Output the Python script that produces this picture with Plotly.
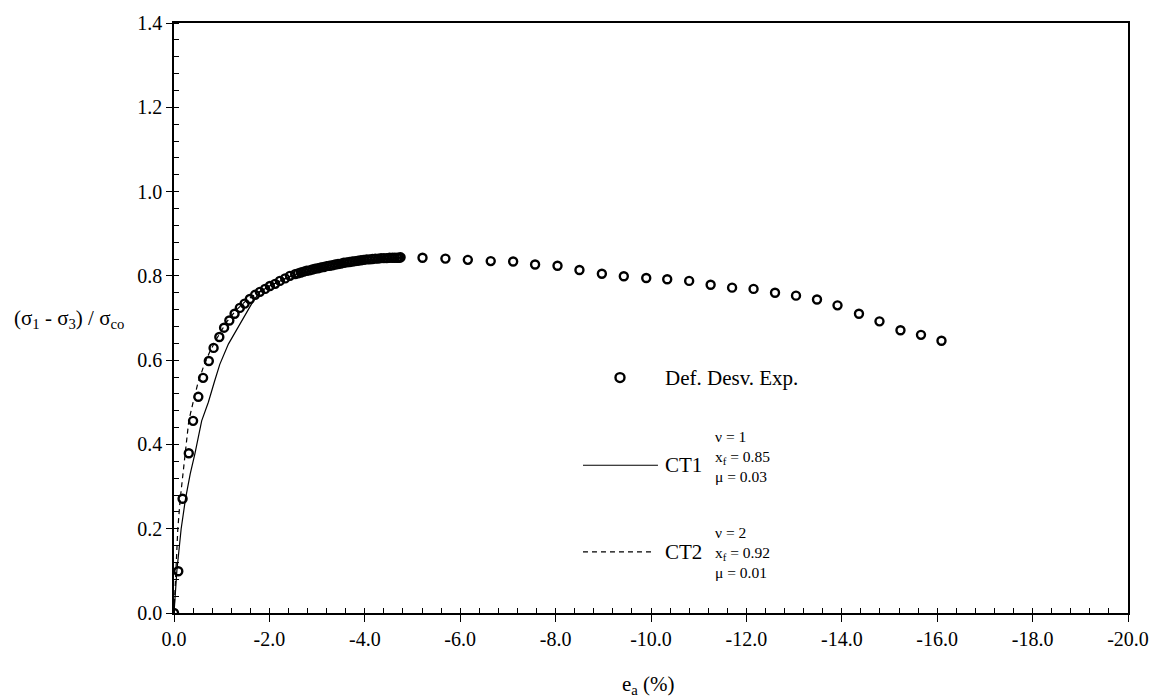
import plotly.graph_objects as go

# ---- data ----
exp_x = [0.0, -0.09, -0.18, -0.31, -0.40, -0.51, -0.61, -0.73, -0.83, -0.95, -1.05, -1.16, -1.27,
         -1.38, -1.48, -1.59, -1.70, -1.80, -1.91, -2.01, -2.12, -2.22, -2.33, -2.43,
         -2.54, -2.60, -2.66, -2.72, -2.78, -2.84, -2.90, -2.96, -3.02, -3.08, -3.14, -3.20, -3.26,
         -3.32, -3.38, -3.44, -3.50, -3.56, -3.62, -3.68, -3.74, -3.80, -3.86, -3.92, -3.98, -4.04,
         -4.10, -4.16, -4.22, -4.28, -4.34, -4.40, -4.46, -4.52, -4.58, -4.63, -4.68, -4.72, -4.75,
         -5.21, -5.69, -6.16, -6.64, -7.11, -7.57, -8.04, -8.50, -8.97, -9.43, -9.90, -10.34,
         -10.80, -11.25, -11.70, -12.15, -12.60, -13.04, -13.48, -13.91, -14.36, -14.79, -15.23,
         -15.66, -16.09]
exp_y = [0.0, 0.099, 0.271, 0.379, 0.456, 0.513, 0.558, 0.598, 0.629, 0.655, 0.677, 0.694, 0.710,
         0.724, 0.734, 0.745, 0.755, 0.762, 0.769, 0.776, 0.781, 0.788, 0.794, 0.800,
         0.804, 0.806, 0.808, 0.810, 0.812, 0.813, 0.815, 0.817, 0.818, 0.820, 0.821, 0.823, 0.824,
         0.825, 0.827, 0.828, 0.829, 0.831, 0.832, 0.833, 0.834, 0.835, 0.836, 0.837, 0.838, 0.839,
         0.839, 0.840, 0.841, 0.841, 0.842, 0.842, 0.842, 0.843, 0.843, 0.843, 0.843, 0.843, 0.844,
         0.843, 0.841, 0.838, 0.835, 0.834, 0.827, 0.824, 0.814, 0.805, 0.799, 0.795, 0.792,
         0.788, 0.779, 0.772, 0.769, 0.760, 0.753, 0.744, 0.730, 0.710, 0.692, 0.671,
         0.660, 0.646]

ct1_x = [0.0, -0.06, -0.15, -0.24, -0.34, -0.44, -0.58, -0.72, -0.85, -0.96, -1.14, -1.31, -1.49,
         -1.66, -1.80, -2.0, -2.5, -3.0, -3.5, -4.0, -4.5, -4.75]
ct1_y = [0.0, 0.10, 0.20, 0.27, 0.33, 0.379, 0.456, 0.50, 0.55, 0.59, 0.638, 0.672, 0.708,
         0.740, 0.762, 0.776, 0.802, 0.818, 0.830, 0.838, 0.842, 0.843]

ct2_x = [0.0, -0.035, -0.08, -0.13, -0.23, -0.31, -0.40, -0.50, -0.62, -0.75, -0.90, -1.10, -1.30,
         -1.50, -1.75, -2.0, -2.5, -3.0, -3.5, -4.0, -4.5, -4.75]
ct2_y = [0.0, 0.10, 0.20, 0.27, 0.38, 0.456, 0.50, 0.545, 0.585, 0.62, 0.652, 0.69, 0.718,
         0.74, 0.76, 0.776, 0.802, 0.818, 0.830, 0.838, 0.842, 0.843]

x_tickvals = [0, -2, -4, -6, -8, -10, -12, -14, -16, -18, -20]
x_ticktext = ["0.0", "-2.0", "-4.0", "-6.0", "-8.0", "-10.0", "-12.0", "-14.0", "-16.0", "-18.0", "-20.0"]
y_tickvals = [0, 0.2, 0.4, 0.6, 0.8, 1.0, 1.2, 1.4]
y_ticktext = ["0.0", "0.2", "0.4", "0.6", "0.8", "1.0", "1.2", "1.4"]

FONT = "Liberation Serif, Times New Roman, serif"

fig = go.Figure()
fig.add_trace(go.Scatter(x=ct1_x, y=ct1_y, mode="lines", line=dict(color="black", width=1.2),
                         name="CT1", showlegend=False))
fig.add_trace(go.Scatter(x=ct2_x, y=ct2_y, mode="lines",
                         line=dict(color="black", width=1.2, dash="5px,4px"),
                         name="CT2", showlegend=False))
fig.add_trace(go.Scatter(x=exp_x, y=exp_y, mode="markers",
                         marker=dict(symbol="circle-open", size=8, color="black",
                                     line=dict(width=2.4, color="black")),
                         name="Def. Desv. Exp.", showlegend=False))

axis_common = dict(showgrid=False, zeroline=False, linecolor="black", linewidth=1.5,
                   tickcolor="black", tickfont=dict(family=FONT, size=20, color="black"))

fig.update_layout(
    width=1161, height=700,
    margin=dict(l=174, r=33, t=14, b=87),
    paper_bgcolor="white", plot_bgcolor="white",
    font=dict(family=FONT, size=20, color="black"),
    xaxis=dict(range=[0, -20], tickvals=x_tickvals, ticktext=x_ticktext,
               ticks="outside", ticklen=7, tickwidth=1.2, showline=True, mirror=True,
               minor=dict(ticks="inside", ticklen=5, dtick=0.4, tick0=0, tickwidth=1.2,
                          tickcolor="black"),
               **axis_common),
    yaxis=dict(range=[0, 1.4], tickvals=y_tickvals, ticktext=y_ticktext,
               ticks="outside", ticklen=6, tickwidth=1.2, showline=True, mirror=True,
               minor=dict(ticks="inside", ticklen=5, dtick=0.04, tick0=0, tickwidth=1.2,
                          tickcolor="black"),
               **axis_common),
    xaxis2=dict(range=[0, -20], overlaying="x", anchor="y", side="bottom",
                tickvals=x_tickvals, ticks="inside", ticklen=5, tickwidth=1.2, tickcolor="black",
                showticklabels=False, showgrid=False, zeroline=False, showline=False),
    yaxis2=dict(range=[0, 1.4], overlaying="y", anchor="x", side="left",
                tickvals=y_tickvals, ticks="inside", ticklen=5, tickwidth=1.2, tickcolor="black",
                showticklabels=False, showgrid=False, zeroline=False, showline=False),
)
# dummy trace to activate overlay axes
fig.add_trace(go.Scatter(x=[None], y=[None], xaxis="x2", yaxis="y2", showlegend=False,
                         hoverinfo="skip"))

# Axis titles
fig.add_annotation(text="(σ<sub>1</sub> - σ<sub>3</sub>) / σ<sub>co</sub>", xref="paper", yref="paper",
                   x=-0.110, y=0.4975, xanchor="center", yanchor="middle", showarrow=False,
                   font=dict(family=FONT, size=21))
fig.add_annotation(text="e<sub>a</sub> (%)", xref="paper", yref="paper",
                   x=0.4977, y=-0.122, xanchor="center", yanchor="middle", showarrow=False,
                   font=dict(family=FONT, size=21))

# Legend (custom)
fig.add_shape(type="circle", xref="paper", yref="paper", xsizemode="pixel", ysizemode="pixel",
              xanchor=0.4675, yanchor=0.399, x0=-4.5, x1=4.5, y0=-4.5, y1=4.5,
              line=dict(color="black", width=2.4))
fig.add_annotation(text="Def. Desv. Exp.", xref="paper", yref="paper", x=0.5126, y=0.399,
                   xanchor="left", yanchor="middle", showarrow=False, font=dict(family=FONT, size=21))

fig.add_shape(type="line", xref="paper", yref="paper", x0=0.4287, x1=0.5073, y0=0.2504, y1=0.2504,
              line=dict(color="black", width=1.2))
fig.add_annotation(text="CT1", xref="paper", yref="paper", x=0.5126, y=0.2504,
                   xanchor="left", yanchor="middle", showarrow=False, font=dict(family=FONT, size=21))
fig.add_annotation(text="ν = 1<br>x<sub>f</sub> = 0.85<br>μ = 0.03", xref="paper", yref="paper",
                   x=0.565, y=0.2654, xanchor="left", yanchor="middle", align="left",
                   showarrow=False, font=dict(family=FONT, size=15.5))

fig.add_shape(type="line", xref="paper", yref="paper", x0=0.4287, x1=0.5020, y0=0.1035, y1=0.1035,
              line=dict(color="black", width=1.2, dash="5px,4px"))
fig.add_annotation(text="CT2", xref="paper", yref="paper", x=0.5126, y=0.1035,
                   xanchor="left", yanchor="middle", showarrow=False, font=dict(family=FONT, size=21))
fig.add_annotation(text="ν = 2<br>x<sub>f</sub> = 0.92<br>μ = 0.01", xref="paper", yref="paper",
                   x=0.565, y=0.1018, xanchor="left", yanchor="middle", align="left",
                   showarrow=False, font=dict(family=FONT, size=15.5))

fig.write_html("out.html", config={"displayModeBar": False},
               post_script="document.body.style.margin='0px';")
